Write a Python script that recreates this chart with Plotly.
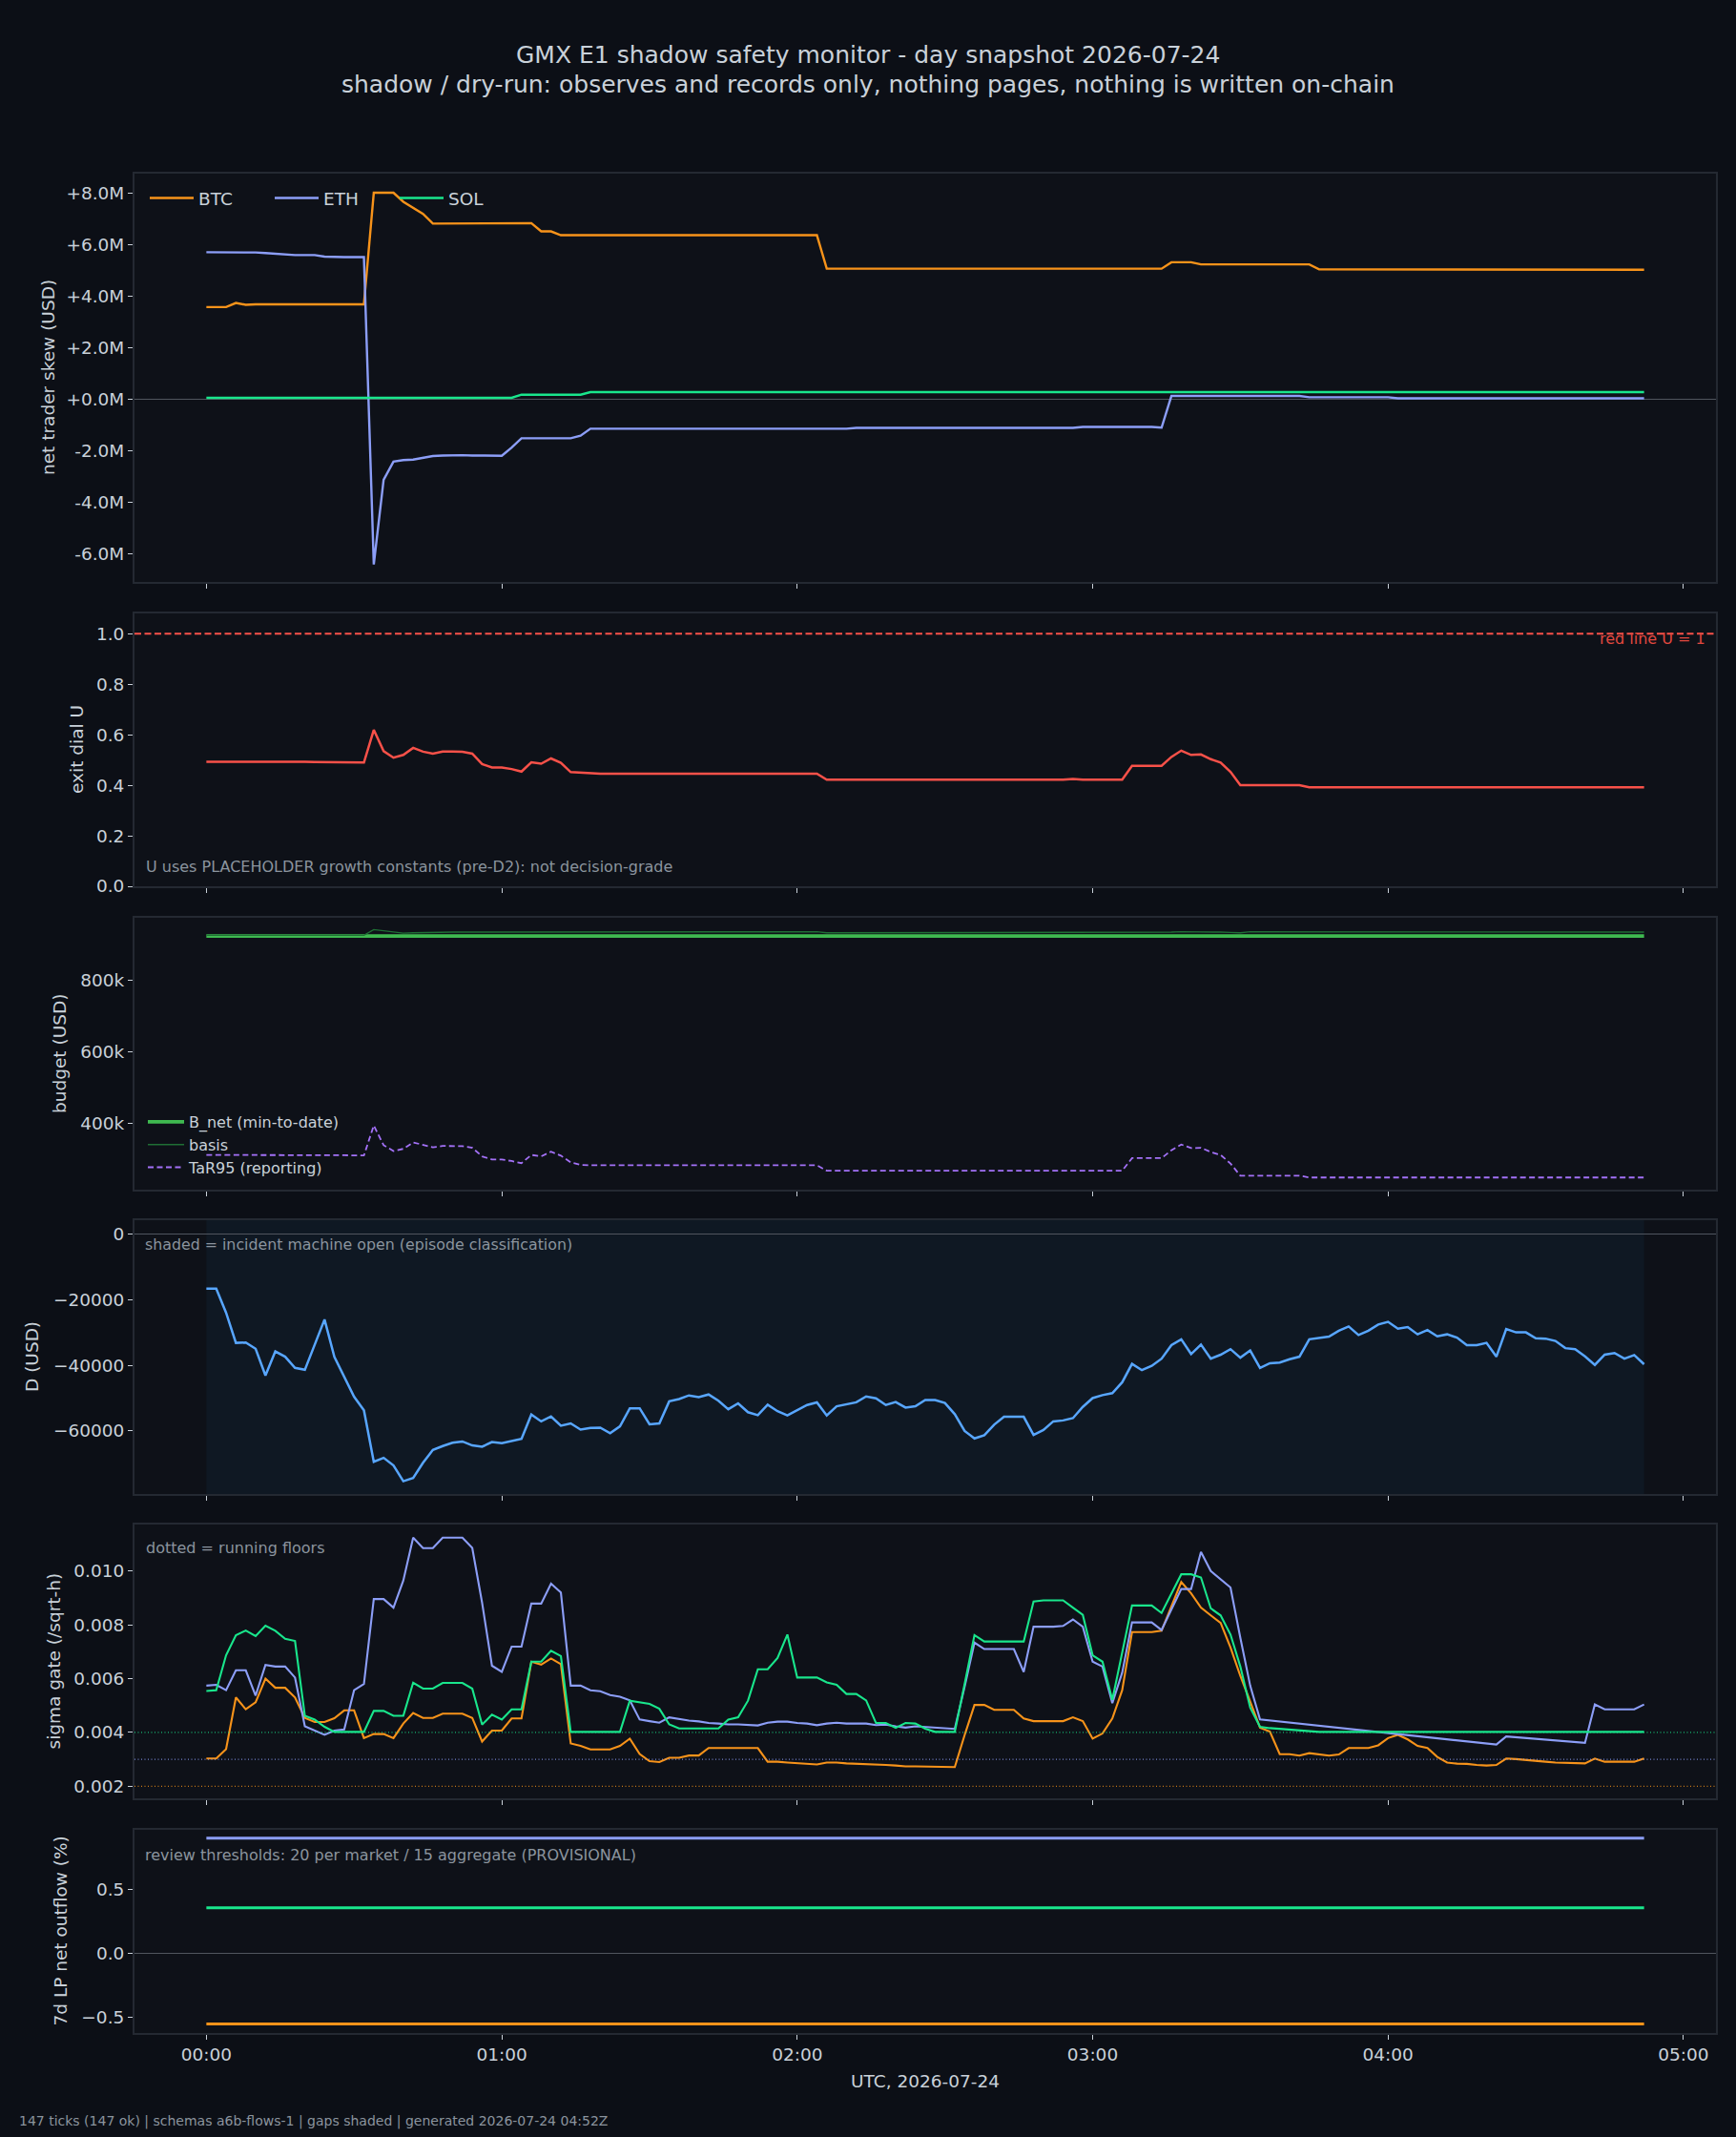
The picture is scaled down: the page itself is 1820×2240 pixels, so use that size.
import pandas as pd
import plotly.graph_objects as go

# ---------------- data (2-minute ticks, 147 ticks) ----------------
times = pd.date_range("2026-07-24 00:00", periods=147, freq="2min")

# net trader skew, millions USD
btc_skew_m = ([3.56] * 3 + [3.72, 3.65] + [3.67] * 12 + [8.0] * 3 + [7.65, 7.42, 7.18]
              + [6.80] * 7 + [6.82] * 4 + [6.50] * 2 + [6.35] * 27 + [5.05] * 13 + [5.04] * 17
              + [5.05] * 5 + [5.30] * 3 + [5.22] * 12 + [5.03] * 18 + [5.01] * 16)
eth_skew_m = ([5.69] * 3 + [5.68] * 3 + [5.66, 5.63, 5.62] + [5.58] * 3 + [5.52] + [5.50] * 4
              + [-6.43, -3.14, -2.44, -2.38, -2.36, -2.28, -2.22]
              + [-2.20, -2.19, -2.19, -2.20, -2.20, -2.21, -2.21] + [-1.89, -1.53]
              + [-1.53] * 5 + [-1.43] + [-1.16] * 27 + [-1.13] * 23 + [-1.09] * 8 + [-1.12]
              + [0.11] * 14 + [0.06] * 9 + [0.02] * 26)
sol_skew_m = [0.04] * 32 + [0.16] * 7 + [0.26] * 108

# exit dial U
exit_dial_u = ([0.493, 0.493, 0.493, 0.495, 0.494, 0.494, 0.494, 0.494, 0.493, 0.493, 0.493,
                0.492, 0.492, 0.491, 0.491, 0.490, 0.490]
               + [0.619, 0.535, 0.509, 0.520, 0.548, 0.533, 0.525, 0.533, 0.533, 0.532, 0.525,
                  0.484, 0.470, 0.470, 0.464, 0.454, 0.491, 0.485, 0.506, 0.489, 0.452, 0.450, 0.446]
               + [0.446] * 23 + [0.422] * 25 + [0.425] + [0.422] * 5 + [0.477] * 4
               + [0.512, 0.537, 0.520, 0.522, 0.503, 0.490, 0.453, 0.400]
               + [0.400] * 6 + [0.392] * 35)
red_line_u = [1.0]

# budget, thousands USD
b_net_k = [924] * 147
basis_k = ([926] * 17 + [942, 938, 935, 932, 933, 934, 934] + [935] * 16 + [936] * 23 + [933] * 31
           + [934, 934, 934, 934, 935, 936, 936, 936, 935, 935, 934, 933] + [936] * 30 + [935] * 11)
tar95_k = ([313, 313, 313, 314, 313.5, 313.5, 313.5, 313, 313, 313, 313, 312.5, 312.5, 312, 312, 311.5, 311.5]
           + [395, 340, 324, 330, 348, 340, 334, 338, 338, 337.5, 333, 309, 300, 300, 296, 290, 313,
              309, 322, 311, 292, 285, 284]
           + [284] * 23 + [269] * 25 + [271] + [269] * 5 + [304] * 4
           + [326, 342, 332, 333, 321, 313, 289, 255] + [255] * 6 + [250] * 35)

# D, thousands USD
d_k = [-16.7, -16.7, -24.0, -33.2, -33.1, -35.0, -43.1, -35.8, -37.4, -40.8,
       -41.4, -33.6, -26.1, -37.5, -43.4, -49.6, -53.7, -69.4, -68.2, -70.5,
       -75.3, -74.3, -69.7, -65.8, -64.6, -63.6, -63.2, -64.4, -64.8, -63.4,
       -63.7, -63.1, -62.4, -55.0, -57.1, -55.6, -58.4, -57.7, -59.6, -59.1,
       -59.0, -60.7, -58.6, -53.1, -53.1, -58.0, -57.7, -51.0, -50.3, -49.2,
       -49.7, -48.9, -50.8, -53.4, -51.6, -54.3, -55.2, -52.0, -54.0, -55.3,
       -53.6, -52.1, -51.3, -55.3, -52.5, -51.9, -51.3, -49.5, -50.1, -52.1,
       -51.2, -52.9, -52.5, -50.6, -50.6, -51.5, -54.9, -60.0, -62.3, -61.3,
       -58.1, -55.7, -55.7, -55.7, -61.2, -59.7, -57.1, -56.8, -56.1, -52.7,
       -50.0, -49.1, -48.5, -45.2, -39.6, -41.5, -40.2, -38.0, -33.9, -32.1,
       -36.6, -33.7, -38.0, -36.8, -35.1, -37.7, -35.5, -40.8, -39.4, -39.2,
       -38.2, -37.4, -32.1, -31.8, -31.3, -29.5, -28.2, -30.8, -29.5, -27.6,
       -26.8, -28.9, -28.4, -30.6, -29.3, -31.2, -30.6, -31.6, -33.9, -33.9,
       -33.2, -37.4, -29.0, -30.0, -30.0, -31.8, -31.9, -32.6, -34.8, -35.1,
       -37.3, -39.9, -36.8, -36.3, -38.0, -36.9, -39.7]
incident_open = [times[0], times[-1]]

# sigma gate, in 1e-3 /sqrt-h
sigma_btc_e3 = [3.03, 3.03, 3.38, 5.30, 4.86, 5.12, 6.00, 5.66, 5.66, 5.30,
                4.54, 4.39, 4.39, 4.53, 4.82, 4.82, 3.79, 3.94, 3.94, 3.79,
                4.33, 4.72, 4.54, 4.54, 4.70, 4.70, 4.70, 4.54, 3.66, 4.07,
                4.07, 4.52, 4.52, 6.63, 6.52, 6.75, 6.54, 3.59, 3.50, 3.37,
                3.37, 3.37, 3.50, 3.77, 3.20, 2.93, 2.90, 3.06, 3.06, 3.14,
                3.14, 3.42, 3.42, 3.42, 3.42, 3.42, 3.42, 2.91, 2.91, 2.88,
                2.86, 2.84, 2.81, 2.88, 2.88, 2.85, 2.84, 2.81, 2.81, 2.79,
                2.77, 2.74, 2.74, 2.73, 2.71, 2.70, 2.71, 3.90, 5.02, 5.02,
                4.84, 4.84, 4.84, 4.52, 4.42, 4.42, 4.42, 4.42, 4.56, 4.42,
                3.77, 3.96, 4.52, 5.57, 7.73, 7.73, 7.73, 7.78, 8.70, 9.59,
                9.17, 8.64, 8.35, 8.07, 7.16, 6.10, 5.15, 4.18, 4.03, 3.19,
                3.19, 3.14, 3.23, 3.19, 3.14, 3.18, 3.42, 3.42, 3.42, 3.52,
                3.79, 3.91, 3.74, 3.50, 3.42, 3.09, 2.88, 2.84, 2.83, 2.79,
                2.77, 2.79, 3.03, 3.01, 2.97, 2.94, 2.91, 2.88, 2.87, 2.85,
                2.85, 3.03, 2.91, 2.91, 2.91, 2.91, 3.03]
sigma_eth_e3 = [5.74, 5.77, 5.57, 6.31, 6.31, 5.37, 6.51, 6.45, 6.45, 6.04,
                4.23, 4.07, 3.91, 4.07, 4.11, 5.57, 5.80, 8.96, 8.96, 8.64,
                9.65, 11.24, 10.85, 10.85, 11.24, 11.24, 11.24, 10.86, 8.82, 6.48,
                6.25, 7.19, 7.19, 8.79, 8.79, 9.53, 9.20, 5.74, 5.74, 5.57,
                5.53, 5.39, 5.33, 5.19, 4.48, 4.42, 4.36, 4.56, 4.50, 4.44,
                4.41, 4.35, 4.33, 4.30, 4.30, 4.29, 4.26, 4.36, 4.40, 4.40,
                4.35, 4.33, 4.27, 4.33, 4.36, 4.33, 4.33, 4.33, 4.27, 4.29,
                4.23, 4.18, 4.23, 4.21, 4.18, 4.16, 4.13, 5.70, 7.34, 7.10,
                7.10, 7.10, 7.10, 6.25, 7.93, 7.93, 7.93, 7.96, 8.20, 7.93,
                6.63, 6.45, 5.09, 6.22, 8.09, 8.09, 8.09, 7.81, 8.58, 9.33,
                9.33, 10.71, 10.00, 9.70, 9.39, 7.52, 5.74, 4.48, 4.44, 4.40,
                4.36, 4.32, 4.28, 4.24, 4.20, 4.17, 4.13, 4.09, 4.05, 4.01,
                3.97, 3.94, 3.90, 3.86, 3.82, 3.78, 3.74, 3.70, 3.67, 3.63,
                3.59, 3.55, 3.85, 3.82, 3.79, 3.76, 3.72, 3.69, 3.66, 3.63,
                3.61, 5.04, 4.86, 4.86, 4.86, 4.86, 5.04]
sigma_sol_e3 = [5.54, 5.57, 6.87, 7.61, 7.79, 7.58, 7.97, 7.78, 7.48, 7.40,
                4.62, 4.48, 4.21, 4.02, 4.02, 4.02, 4.02, 4.80, 4.80, 4.62,
                4.62, 5.85, 5.63, 5.63, 5.84, 5.84, 5.84, 5.63, 4.29, 4.66,
                4.48, 4.86, 4.86, 6.63, 6.63, 7.04, 6.84, 4.02, 4.02, 4.02,
                4.02, 4.02, 4.02, 5.18, 5.13, 5.06, 4.88, 4.30, 4.15, 4.15,
                4.15, 4.15, 4.15, 4.48, 4.56, 5.18, 6.35, 6.35, 6.77, 7.64,
                6.04, 6.04, 6.04, 5.86, 5.77, 5.43, 5.43, 5.19, 4.35, 4.35,
                4.17, 4.35, 4.33, 4.14, 4.02, 4.02, 4.02, 5.80, 7.62, 7.38,
                7.38, 7.38, 7.38, 7.38, 8.87, 8.91, 8.91, 8.91, 8.64, 8.37,
                6.87, 6.63, 5.21, 6.93, 8.72, 8.72, 8.72, 8.44, 9.17, 9.88,
                9.88, 9.76, 8.61, 8.35, 7.64, 6.45, 4.92, 4.21, 4.16, 4.13,
                4.11, 4.09, 4.04] + [4.02] * 34
floor_btc_e3, floor_eth_e3, floor_sol_e3 = 2.0, 3.0, 4.0

# 7d LP net outflow, %
lp_btc = [-0.55] * 147
lp_eth = [0.905] * 147
lp_sol = [0.36] * 147

for name, arr in [("btc_skew_m", btc_skew_m), ("eth_skew_m", eth_skew_m), ("sol_skew_m", sol_skew_m),
                  ("exit_dial_u", exit_dial_u), ("basis_k", basis_k), ("tar95_k", tar95_k), ("d_k", d_k),
                  ("sigma_btc_e3", sigma_btc_e3), ("sigma_eth_e3", sigma_eth_e3), ("sigma_sol_e3", sigma_sol_e3)]:
    assert len(arr) == 147, (name, len(arr))

# ---------------- style ----------------
W, H = 1820, 2240
PAPER = "#0c0f16"
PLOT = "#0e1118"
FRAME = "#242932"
TXT = "#c9d1d9"
MUTED = "#8b949e"
ZERO = "#50555e"
C_BTC = "#f7931a"
C_ETH = "#8c9ef7"
C_SOL = "#19e68c"
C_U = "#f85149"
C_D = "#58a6ff"
C_BNET = "#3fb950"
C_BASIS = "#1f6f35"
C_TAR = "#a371f7"
FONT = "DejaVu Sans"

panels = [(181.5, 610), (643, 929), (962, 1247), (1279, 1566), (1598, 1885), (1918, 2131)]
x_dom = [141 / W, 1799 / W]
x_range = ["2026-07-23 23:45:24", "2026-07-24 05:06:36"]


def ydom(top, bot):
    return [1 - bot / H, 1 - top / H]


fig = go.Figure()


def add(y, k, color, width, name=None, legend=None, dash=None):
    fig.add_trace(go.Scatter(
        x=times, y=y, mode="lines", name=name,
        xaxis="x" if k == 1 else f"x{k}", yaxis="y" if k == 1 else f"y{k}",
        line=dict(color=color, width=width, dash=dash),
        showlegend=name is not None, legend=legend, hoverinfo="skip"))


# panel 1
add(btc_skew_m, 1, C_BTC, 2.4, "BTC", "legend")
add(eth_skew_m, 1, C_ETH, 2.4, "ETH", "legend")
add(sol_skew_m, 1, C_SOL, 2.4, "SOL", "legend")
# panel 2
add(exit_dial_u, 2, C_U, 2.5)
# panel 3
add(b_net_k, 3, C_BNET, 3.6, "B_net (min-to-date)", "legend2")
add(basis_k, 3, C_BASIS, 1.4, "basis", "legend2")
add(tar95_k, 3, C_TAR, 1.8, "TaR95 (reporting)", "legend2", dash="6px,3.5px")
# panel 4
add(d_k, 4, C_D, 2.5)
# panel 5
add(sigma_btc_e3, 5, C_BTC, 2.1)
add(sigma_eth_e3, 5, C_ETH, 2.1)
add(sigma_sol_e3, 5, C_SOL, 2.1)
# panel 6
add(lp_eth, 6, C_ETH, 3)
add(lp_sol, 6, C_SOL, 3)
add(lp_btc, 6, C_BTC, 3)

layout = dict(
    width=W, height=H, paper_bgcolor=PAPER, plot_bgcolor=PLOT,
    margin=dict(l=0, r=0, t=0, b=0, pad=0, autoexpand=False),
    font=dict(family=FONT, color=TXT, size=18),
    showlegend=True,
)

y_cfg = [
    dict(range=[-7.11, 8.76], tickvals=[-6, -4, -2, 0, 2, 4, 6, 8],
         ticktext=["-6.0M", "-4.0M", "-2.0M", "+0.0M", "+2.0M", "+4.0M", "+6.0M", "+8.0M"], zeroline=True),
    dict(range=[0, 1.08], tickvals=[0, 0.2, 0.4, 0.6, 0.8, 1.0],
         ticktext=["0.0", "0.2", "0.4", "0.6", "0.8", "1.0"], zeroline=False),
    dict(range=[216, 975], tickvals=[400, 600, 800], ticktext=["400k", "600k", "800k"], zeroline=False),
    dict(range=[-79.2, 4.15], tickvals=[-60, -40, -20, 0],
         ticktext=["\u221260000", "\u221240000", "\u221220000", "0"], zeroline=True),
    dict(range=[1.55, 11.73], tickvals=[2, 4, 6, 8, 10],
         ticktext=["0.002", "0.004", "0.006", "0.008", "0.010"], zeroline=False),
    dict(range=[-0.62, 0.97], tickvals=[-0.5, 0, 0.5],
         ticktext=["\u22120.5", "0.0", "0.5"], zeroline=True),
]

for k in range(1, 7):
    sx = "" if k == 1 else str(k)
    top, bot = panels[k - 1]
    layout[f"xaxis{sx}"] = dict(
        domain=x_dom, range=x_range, type="date", anchor=f"y{sx}", automargin=False,
        showline=True, mirror=True, linecolor=FRAME, linewidth=2,
        ticks="outside", ticklen=5, tickwidth=1.3, tickcolor=TXT,
        showgrid=False, zeroline=False,
        tick0="2026-07-24 00:00", dtick=3600000, tickformat="%H:%M",
        showticklabels=(k == 6), tickfont=dict(size=18.5, color=TXT),
    )
    yc = y_cfg[k - 1]
    layout[f"yaxis{sx}"] = dict(
        domain=ydom(top, bot), anchor=f"x{sx}", automargin=False,
        range=yc["range"], tickmode="array", tickvals=yc["tickvals"], ticktext=yc["ticktext"],
        showline=True, mirror=True, linecolor=FRAME, linewidth=2,
        ticks="outside", ticklen=5, tickwidth=1.3, tickcolor=TXT,
        showgrid=False, zeroline=yc["zeroline"], zerolinecolor=ZERO, zerolinewidth=1.4,
        tickfont=dict(size=18.5, color=TXT),
    )

layout["legend"] = dict(
    orientation="h", x=152 / W, y=1 - 189 / H, xanchor="left", yanchor="top",
    bgcolor="rgba(0,0,0,0)", borderwidth=0, font=dict(size=18.5, color=TXT),
    entrywidth=70, entrywidthmode="pixels", itemwidth=46,
)
layout["legend2"] = dict(
    orientation="v", x=150 / W, y=1 - 1159 / H, xanchor="left", yanchor="top",
    bgcolor="rgba(0,0,0,0)", borderwidth=0, font=dict(size=16, color=TXT),
    tracegroupgap=0, itemwidth=38,
)
fig.update_layout(**layout)

# reference lines / shading
fig.add_shape(type="rect", xref="x4", x0=incident_open[0], x1=incident_open[1],
              yref="y4 domain", y0=0, y1=1, fillcolor="#0f1823", line_width=0, layer="below")
fig.add_shape(type="line", xref="x2 domain", x0=0, x1=1, yref="y2", y0=red_line_u[0], y1=red_line_u[0],
              line=dict(color=C_U, width=2, dash="7px,3.5px"), layer="above")
for fl, col in [(floor_sol_e3, C_SOL), (floor_eth_e3, C_ETH), (floor_btc_e3, C_BTC)]:
    fig.add_shape(type="line", xref="x5 domain", x0=0, x1=1, yref="y5", y0=fl, y1=fl,
                  line=dict(color=col, width=1, dash="1px,2.5px"), layer="above")


def ann(text, x, y, size, color=TXT, xanchor="left", yanchor="middle", angle=0):
    fig.add_annotation(text=text, x=x / W, y=1 - y / H, xref="paper", yref="paper",
                       showarrow=False, xanchor=xanchor, yanchor=yanchor, textangle=angle,
                       font=dict(family=FONT, size=size, color=color))


# titles
ann("GMX E1 shadow safety monitor - day snapshot 2026-07-24", 910, 57.5, 25, xanchor="center")
ann("shadow / dry-run: observes and records only, nothing pages, nothing is written on-chain",
    910, 88.5, 25, xanchor="center")
# y labels
ylabels = [("net trader skew (USD)", 50, 396), ("exit dial U", 80, 786), ("budget (USD)", 62, 1104),
           ("D (USD)", 33.5, 1422.5), ("sigma gate (/sqrt-h)", 56, 1741.5), ("7d LP net outflow (%)", 63, 2024.5)]
for t, x, y in ylabels:
    ann(t, x, y, 18.5, xanchor="center", angle=-90)
ann("UTC, 2026-07-24", 970, 2181, 18.5, xanchor="center")
# notes
ann("U uses PLACEHOLDER growth constants (pre-D2): not decision-grade", 151, 908, 16, MUTED)
ann("red line U = 1", 1790, 670, 16, "#e0483f", xanchor="right")
ann("shaded = incident machine open (episode classification)", 150, 1304, 15.8, MUTED)
ann("dotted = running floors", 151, 1622, 16, MUTED)
ann("review thresholds: 20 per market / 15 aggregate (PROVISIONAL)", 150, 1944, 16, MUTED)
ann("147 ticks (147 ok) | schemas a6b-flows-1 | gaps shaded | generated 2026-07-24 04:52Z",
    18, 2223, 14, MUTED)

fig.write_html("out.html")
